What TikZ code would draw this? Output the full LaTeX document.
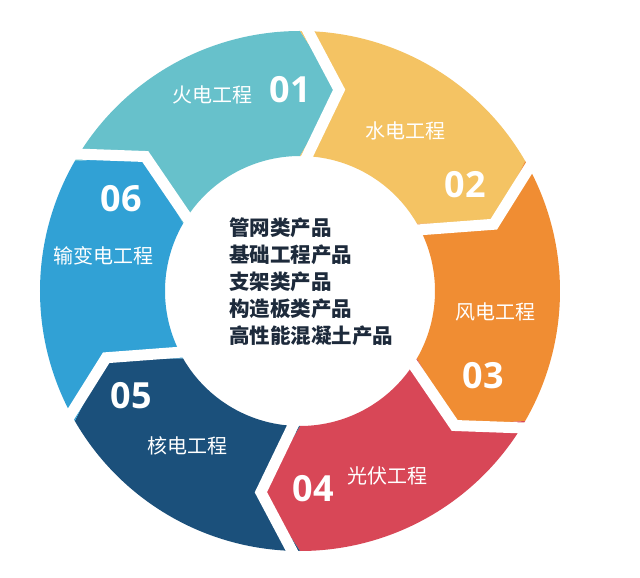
\documentclass[tikz,border=0pt]{standalone}
\usepackage{fontspec}
\setmainfont{Open Sans}
\newfontfamily\cjk{Noto Sans CJK SC}
\definecolor{c1}{HTML}{67C1CB}
\definecolor{c2}{HTML}{F4C363}
\definecolor{c3}{HTML}{F08D33}
\definecolor{c4}{HTML}{D84757}
\definecolor{c5}{HTML}{1B507B}
\definecolor{c6}{HTML}{31A1D5}
\definecolor{ctext}{HTML}{1D2A3B}
\newcommand{\ringseg}[3]{%
  \fill[#1] (#2:260pt) arc[start angle=#2, end angle=#3, radius=260pt]
    -- ({#3-11}:205pt) -- (#3:135pt)
    arc[start angle=#3, end angle=#2, radius=135pt]
    -- ({#2-11}:205pt) -- cycle;}
\newcommand{\gapline}[1]{%
  \draw[gapstroke] (#1:275pt) -- ({#1-11}:205pt) -- (#1:120pt);}
\tikzset{
  gapstroke/.style={draw=white, line width=11pt, line join=miter},
  numlabel/.style={text=white, font=\fontsize{36}{40}\selectfont\bfseries, inner sep=0pt},
  seglabel/.style={text=white, font=\cjk\fontsize{20}{22}\selectfont, inner sep=0pt},
  centertext/.style={text=ctext, font=\cjk\bfseries\fontsize{20.5}{27}\selectfont, align=left, inner sep=0pt}
}
\begin{document}
\begin{tikzpicture}
\useasboundingbox[fill=white] (-300pt,-287pt) rectangle (340pt,291pt);
\ringseg{c1}{150}{90}
\ringseg{c2}{90}{30}
\ringseg{c3}{30}{-30}
\ringseg{c4}{-30}{-90}
\ringseg{c5}{-90}{-150}
\ringseg{c6}{210}{150}
\gapline{90}
\gapline{30}
\gapline{-30}
\gapline{-90}
\gapline{-150}
\gapline{150}
\node[seglabel] (t1) at (-87pt,196pt) {火电工程};
\node[numlabel] (n1) at (-10pt,201pt) {01};
\node[seglabel] (t2) at (106pt,160pt) {水电工程};
\node[numlabel] (n2) at (165pt,106pt) {02};
\node[seglabel] (t3) at (195pt,-21pt) {风电工程};
\node[numlabel] (n3) at (183pt,-85pt) {03};
\node[seglabel] (t4) at (88pt,-185pt) {光伏工程};
\node[numlabel] (n4) at (13pt,-198pt) {04};
\node[seglabel] (t5) at (-112pt,-155pt) {核电工程};
\node[numlabel] (n5) at (-169pt,-105pt) {05};
\node[seglabel] (t6) at (-196pt,35pt) {输变电工程};
\node[numlabel] (n6) at (-179pt,92pt) {06};
\node[centertext, anchor=west] (ct) at (-71pt,9pt) {管网类产品\\基础工程产品\\支架类产品\\构造板类产品\\高性能混凝土产品};
\end{tikzpicture}
\end{document}
